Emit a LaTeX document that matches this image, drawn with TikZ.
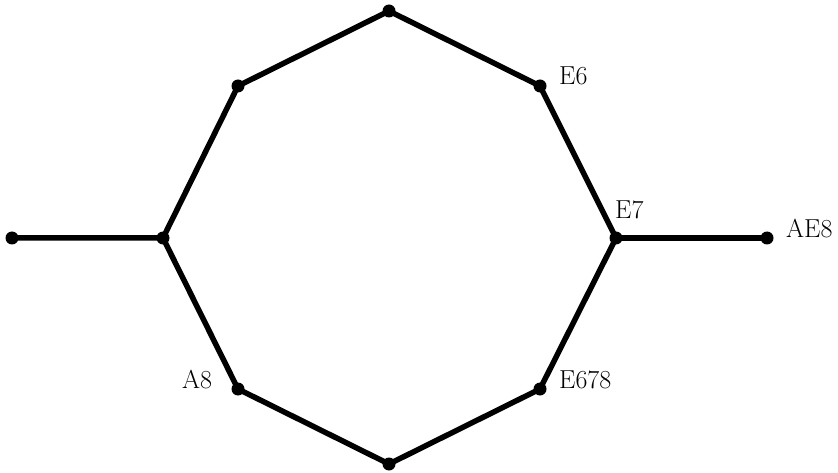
\documentclass[tikz,border=0pt]{standalone}
\begin{document}
\begin{tikzpicture}[x=1pt,y=-1pt,
  dot/.style={circle,fill=black,inner sep=0pt,minimum size=13pt},
  edge/.style={line width=5.5pt},
  lab/.style={anchor=base west,inner sep=0pt,font=\fontsize{26}{31}\selectfont}]
\useasboundingbox (0,0) rectangle (838,473);
\node[dot] (l) at (12,238) {};
\node[dot] (a) at (163,238) {};
\node[dot] (b) at (238,86) {};
\node[dot] (c) at (389,11) {};
\node[dot] (d) at (540,86) {};
\node[dot] (e) at (616,238) {};
\node[dot] (r) at (767,238) {};
\node[dot] (f) at (540,389) {};
\node[dot] (g) at (389,464) {};
\node[dot] (h) at (238,389) {};
\draw[edge] (l.center) -- (a.center) -- (b.center) -- (c.center) -- (d.center) -- (e.center) -- (f.center) -- (g.center) -- (h.center) -- (a.center);
\draw[edge] (e.center) -- (r.center);
\node[lab] (t1) at (559,85) {E6};
\node[lab] (t2) at (615,219) {E7};
\node[lab] (t3) at (786,238) {AE8};
\node[lab] (t4) at (182,388) {A8};
\node[lab] (t5) at (559,388) {E678};
\end{tikzpicture}
\end{document}
